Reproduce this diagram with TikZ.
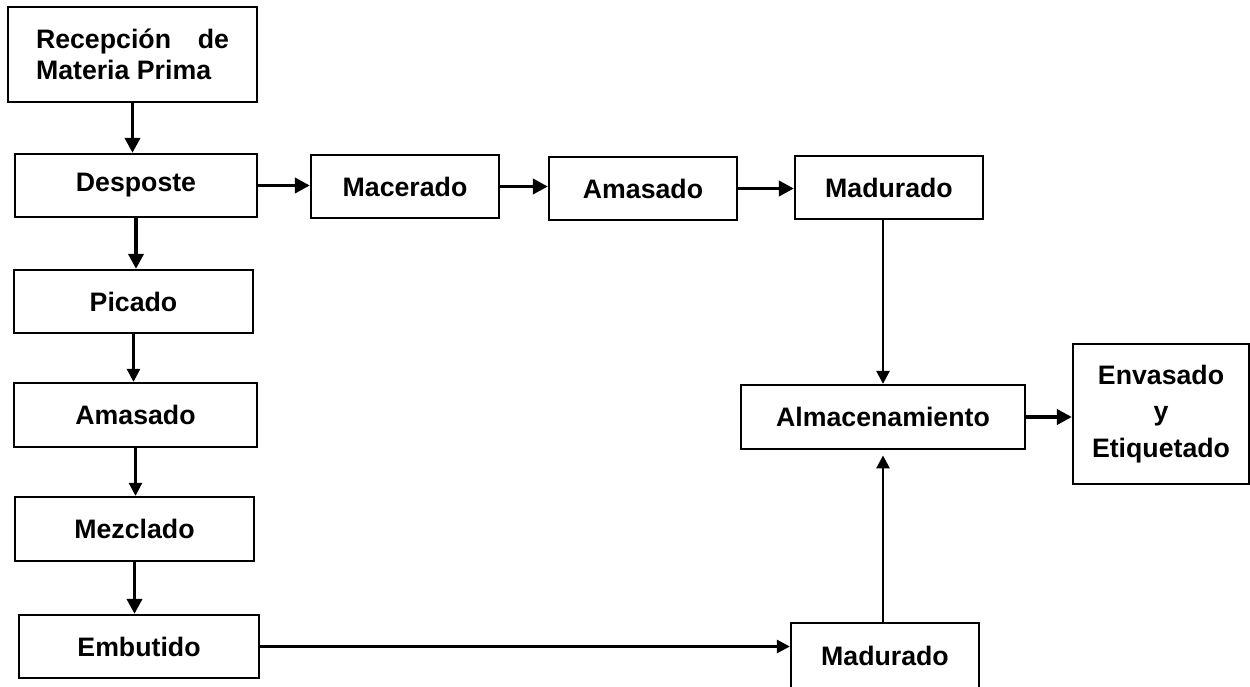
\documentclass[tikz,border=0pt]{standalone}
\usepackage{fontspec}
\setmainfont{Liberation Sans}
\usetikzlibrary{arrows.meta}

\begin{document}
\begin{tikzpicture}[x=0.02cm,y=-0.02cm,
        paso/.style={draw, line width=1.3pt, inner sep=0pt, align=center,
            font=\fontsize{15.2}{18}\selectfont\bfseries},
        flecha/.style={-{Triangle[length=0.26cm,width=0.26cm]}, line width=1.5pt},
        gruesa/.style={-{Triangle[length=0.3cm,width=0.3cm]}, line width=2.1pt}]
              \useasboundingbox (0,0) rectangle (1250,686);
              % columna izquierda
              \node[paso, minimum width=4.98cm, minimum height=1.9cm, text width=3.86cm, align=justify]
                  (rec) at (132.5,54.5) {Recepción\hfill de\\Materia Prima};
              \node[paso, minimum width=4.84cm, minimum height=1.26cm] (desp) at (136,185.5) {Desposte};
              \node[paso, minimum width=4.78cm, minimum height=1.26cm] (pic) at (133.5,301.5) {Picado};
              \node[paso, minimum width=4.86cm, minimum height=1.28cm] (amaL) at (135.5,415) {Amasado};
              \node[paso, minimum width=4.78cm, minimum height=1.28cm] (mez) at (134.5,529) {Mezclado};
              \node[paso, minimum width=4.8cm, minimum height=1.26cm] (emb) at (139,646.5) {Embutido};
              % fila superior
              \node[paso, minimum width=3.76cm, minimum height=1.26cm] (mac) at (405,186.5) {Macerado};
              \node[paso, minimum width=3.76cm, minimum height=1.26cm] (amaM) at (643,188.5) {Amasado};
              \node[paso, minimum width=3.76cm, minimum height=1.26cm] (madT) at (889,187.5) {Madurado};
              % derecha
              \node[paso, minimum width=5.68cm, minimum height=1.28cm] (alm) at (883,417) {Almacenamiento};
              \node[paso, minimum width=3.52cm, minimum height=2.8cm, font=\fontsize{15.2}{21}\selectfont\bfseries]
                  (env) at (1161,414) {Envasado\\y\\Etiquetado};
              \node[paso, minimum width=3.76cm, minimum height=1.3cm] (madB) at (885,655.5) {Madurado};
              % flechas
              \foreach \a/\b/\f in {rec/desp/gruesa,desp/pic/gruesa,pic/amaL/flecha,amaL/mez/flecha,mez/emb/gruesa} {
                  \draw[\f] (\a.south) -- (\a.south |- \b.north);
              }
              \draw[gruesa] (desp.east) -- (desp.east -| mac.west);
              \draw[gruesa] (mac.east) -- (mac.east -| amaM.west);
              \draw[gruesa] (amaM.east) -- (amaM.east -| madT.west);
              \draw[flecha] (madT.south -| alm.north) -- (alm.north);
              \draw[flecha, shorten >=3pt] (madB.north -| alm.south) -- (alm.south);
              \draw[gruesa] (alm.east) -- (alm.east -| env.west);
              \draw[flecha] (emb.east) -- (emb.east -| madB.west);
\end{tikzpicture}
\end{document}
